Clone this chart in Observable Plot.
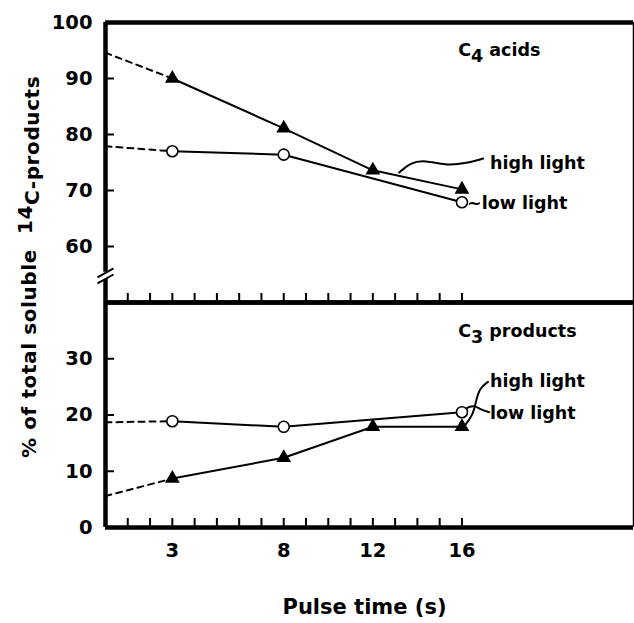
<!DOCTYPE html>
<html><head><meta charset="utf-8">
<script src="https://cdn.jsdelivr.net/npm/d3@7"></script>
<script src="https://cdn.jsdelivr.net/npm/@observablehq/plot@0.6"></script>
<style>
body{margin:0;background:#fff}
#chart{position:relative;width:634px;height:623px}
#chart svg{position:absolute;left:0;top:0}
</style>
</head><body><div id="chart"></div>
<script>
// ---- data ----
const pulseTicks = [3, 8, 12, 16];
const minorTicks = [1, 2, 3, 4, 5, 6, 7, 8, 9, 10, 11, 12, 13, 14, 15, 16];
const yTicksTop = [60, 70, 80, 90, 100];
const yTicksBottom = [0, 10, 20, 30];

const c4HighX = [3, 8, 12, 16];
const c4HighY = [90, 81.1, 73.6, 70.2];
const c4LowX = [3, 8, 16];
const c4LowY = [77, 76.4, 67.9];
const c4HighExtrap = [[0, 94.6], [3, 90]];
const c4LowExtrap = [[0, 77.9], [3, 77]];

const c3HighX = [3, 8, 12, 16];
const c3HighY = [8.7, 12.4, 17.9, 17.9];
const c3LowX = [3, 8, 16];
const c3LowY = [18.9, 17.9, 20.5];
const c3HighExtrap = [[0, 5.6], [3, 8.7]];
const c3LowExtrap = [[0, 18.7], [3, 18.9]];

// annotation labels (data units)
const topLabels = [
  {x: 15.83, y: 95.0, text: "C4 acids"},
  {x: 17.26, y: 74.8, text: "high light"},
  {x: 16.23, y: 67.7, text: "\u223Clow light"}
];
const bottomLabels = [
  {x: 15.83, y: 34.8, text: "C3 products"},
  {x: 17.26, y: 25.9, text: "high light"},
  {x: 17.26, y: 20.2, text: "low light"}
];
const topLeader = [[13.18, 73.2], [13.68, 75.0], [14.35, 75.4], [15.25, 74.5], [16.14, 74.8], [16.95, 75.7]];
const bottomLeaderHigh = [[16.14, 18.2], [16.5, 20.0], [16.64, 22.7], [16.8, 24.8], [17.17, 25.9]];
const bottomLeaderLow = [[16.23, 21.25], [16.55, 21.8], [16.86, 20.9], [17.22, 20.5]];

const xDomain = [0, 23.7];
const W = 634, H = 623, ML = 105, MR = 1;
const frameW = W - ML - MR;
const font = "DejaVu Sans";

const zip = (xs, ys) => xs.map((x, i) => ({x, y: ys[i]}));
const pts = a => a.map(([x, y]) => ({x, y}));

function panel({yDomain, mt, mb, yTicks, highX, highY, lowX, lowY, highEx, lowEx, labels, leaders, isBottom, extra}) {
  const frameH = H - mt - mb;
  const marks = [
    Plot.line(pts(highEx), {x: "x", y: "y", stroke: "black", strokeWidth: 2, strokeDasharray: "6,5"}),
    Plot.line(pts(lowEx), {x: "x", y: "y", stroke: "black", strokeWidth: 2, strokeDasharray: "6,5"}),
    Plot.line(zip(highX, highY), {x: "x", y: "y", stroke: "black", strokeWidth: 2}),
    Plot.line(zip(lowX, lowY), {x: "x", y: "y", stroke: "black", strokeWidth: 2}),
    ...leaders.map(l => Plot.line(pts(l), {x: "x", y: "y", stroke: "black", strokeWidth: 2, curve: "basis"})),
    Plot.dot(zip(highX, highY), {x: "x", y: "y", symbol: "triangle", fill: "black", r: 5.5}),
    Plot.dot(zip(lowX, lowY), {x: "x", y: "y", symbol: "circle", fill: "white", stroke: "black", strokeWidth: 1.6, r: 5.5}),
    Plot.tickX(minorTicks, {x: d => d, insetTop: frameH - 9, strokeWidth: 2}),
    Plot.tickY(yTicks, {y: d => d, insetRight: frameW - 9, strokeWidth: 2}),
    Plot.ruleY([yDomain[0], yDomain[1]], {strokeWidth: 4.5}),
    Plot.ruleX([xDomain[0]], {strokeWidth: 4.5}),
    Plot.ruleX([xDomain[1]], {strokeWidth: 1.5}),
    Plot.axisY({ticks: yTicks, tickSize: 0, tickPadding: 13, fontSize: 19.5, fontWeight: "bold", label: null}),
    Plot.text(labels, {x: "x", y: "y", text: "text", textAnchor: "start", fontSize: 17.5, fontWeight: "bold"}),
    ...extra
  ];
  if (isBottom) {
    marks.push(Plot.axisX({ticks: pulseTicks, tickSize: 0, tickPadding: 16, fontSize: 19.5, fontWeight: "bold", label: null}));
    marks.push(Plot.text(["Pulse time (s)"], {frameAnchor: "bottom", dy: 86, dx: -5, fontSize: 21, fontWeight: "bold"}));
  }
  return Plot.plot({
    width: W, height: H,
    marginLeft: ML, marginRight: MR, marginTop: mt, marginBottom: mb,
    style: {fontFamily: font, background: "transparent"},
    x: {domain: xDomain, axis: null},
    y: {domain: yDomain, axis: null},
    marks
  });
}

const breakMarks = [
  Plot.ruleX([0], {y1: 54.1, y2: 55.4, stroke: "white", strokeWidth: 7}),
  Plot.link([{x1: -0.36, y1: 53.4, x2: 0.36, y2: 55.0}, {x1: -0.36, y1: 54.5, x2: 0.36, y2: 56.1}],
    {x1: "x1", y1: "y1", x2: "x2", y2: "y2", stroke: "black", strokeWidth: 2})
];

const topPanel = panel({
  yDomain: [50, 100], mt: 22, mb: H - 302, yTicks: yTicksTop,
  highX: c4HighX, highY: c4HighY, lowX: c4LowX, lowY: c4LowY,
  highEx: c4HighExtrap, lowEx: c4LowExtrap, labels: topLabels,
  leaders: [topLeader], isBottom: false, extra: breakMarks
});
const bottomPanel = panel({
  yDomain: [0, 40], mt: 302, mb: H - 527, yTicks: yTicksBottom,
  highX: c3HighX, highY: c3HighY, lowX: c3LowX, lowY: c3LowY,
  highEx: c3HighExtrap, lowEx: c3LowExtrap, labels: bottomLabels,
  leaders: [bottomLeaderHigh, bottomLeaderLow], isBottom: true, extra: []
});

const chart = document.getElementById("chart");
chart.append(bottomPanel, topPanel);

// subscripts for C4 / C3
d3.select(chart).selectAll("text").each(function () {
  const t = this.textContent;
  const m = /^C(\d) (.*)$/.exec(t);
  if (m) {
    const s = d3.select(this);
    s.text("C");
    s.append("tspan").attr("dy", 6).text(m[1]);
    s.append("tspan").attr("dy", -6).text(" " + m[2]);
  }
});

// combined y-axis title
const yl = d3.select(topPanel).append("text")
  .attr("transform", "translate(36,458) rotate(-90)")
  .attr("font-family", font).attr("font-weight", "bold").attr("font-size", 20)
  .attr("letter-spacing", 0.6)
  .attr("text-anchor", "start").attr("fill", "black")
  .attr("xml:space", "preserve");
yl.append("tspan").text("% of total soluble  ");
yl.append("tspan").attr("dy", -4).text("14");
yl.append("tspan").attr("dy", 7).text("C-products");
</script>
</body></html>
